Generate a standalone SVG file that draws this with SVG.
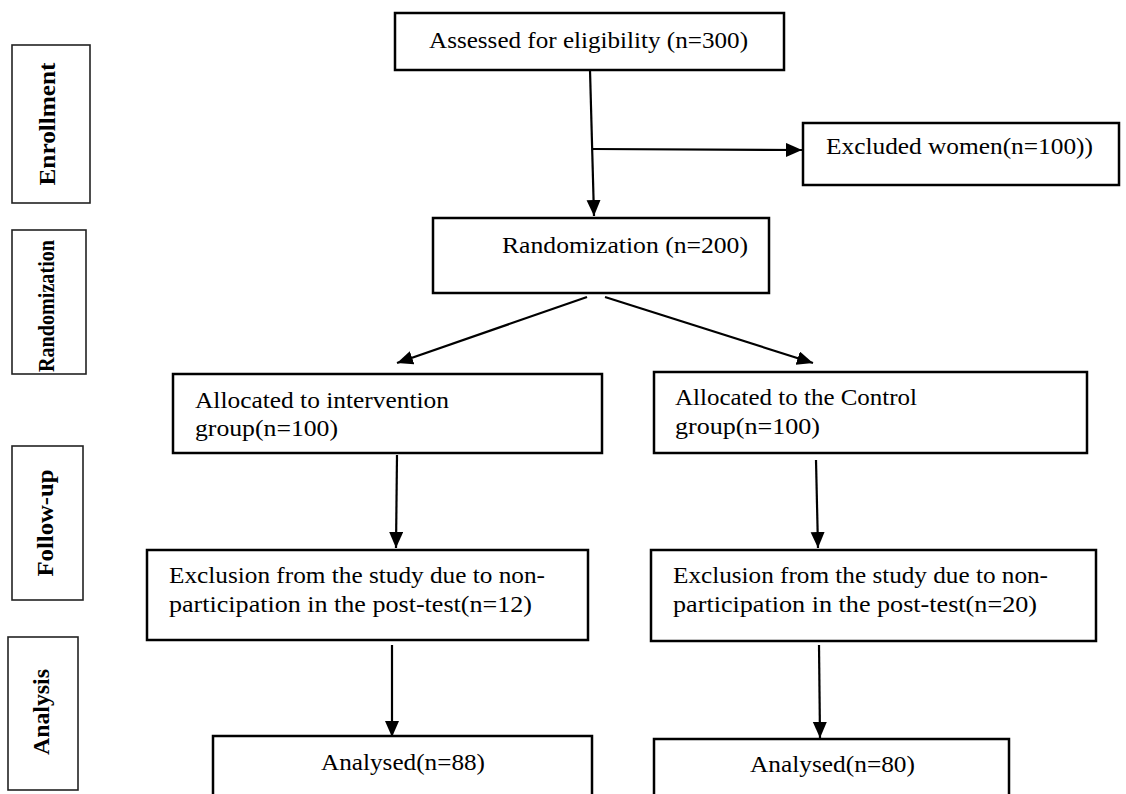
<svg xmlns="http://www.w3.org/2000/svg" width="1126" height="794" viewBox="0 0 1126 794">
<style>
.box{fill:#fff;stroke:#000;stroke-width:2.5}
.side{fill:#fff;stroke:#222;stroke-width:1.6}
.t{font-family:"Liberation Serif","DejaVu Serif",serif;font-size:23.5px;fill:#000}
.s{font-family:"Liberation Serif","DejaVu Serif",serif;font-size:23px;font-weight:bold;fill:#000;text-anchor:middle}
.c{fill:none;stroke:#000;stroke-width:2.2}
</style>
<defs>
<marker id="ah" markerUnits="userSpaceOnUse" markerWidth="17" markerHeight="15" refX="16" refY="7" orient="auto">
<path d="M0,0 L16,7 L0,14 z" fill="#000"/>
</marker>
</defs>
<rect width="1126" height="794" fill="#fff"/>
<g id="stage-enrollment"><rect class="side" x="12" y="45" width="78" height="158"/><text class="s" transform="translate(55,124) rotate(-90)" textLength="123" lengthAdjust="spacingAndGlyphs">Enrollment</text></g>
<g id="stage-randomization"><rect class="side" x="12" y="230" width="74" height="144"/><text class="s" transform="translate(54,306) rotate(-90)" textLength="132" lengthAdjust="spacingAndGlyphs">Randomization</text></g>
<g id="stage-followup"><rect class="side" x="12" y="446" width="71" height="154"/><text class="s" transform="translate(53,523) rotate(-90)" textLength="107" lengthAdjust="spacingAndGlyphs">Follow-up</text></g>
<g id="stage-analysis"><rect class="side" x="8" y="637" width="70" height="153"/><text class="s" transform="translate(49,712) rotate(-90)" textLength="86" lengthAdjust="spacingAndGlyphs">Analysis</text></g>

<g id="connectors">
<line class="c" x1="590" y1="70" x2="594" y2="216" marker-end="url(#ah)"/>
<line class="c" x1="593" y1="149" x2="802" y2="150" marker-end="url(#ah)"/>
<line class="c" x1="587" y1="297" x2="397" y2="363" marker-end="url(#ah)"/>
<line class="c" x1="605" y1="297" x2="813" y2="363" marker-end="url(#ah)"/>
<line class="c" x1="397" y1="455" x2="396" y2="548" marker-end="url(#ah)"/>
<line class="c" x1="816" y1="460" x2="818" y2="548" marker-end="url(#ah)"/>
<line class="c" x1="392" y1="645" x2="392" y2="737" marker-end="url(#ah)"/>
<line class="c" x1="819" y1="645" x2="820" y2="738" marker-end="url(#ah)"/>
</g>

<g id="assessed"><rect class="box" x="395" y="13" width="389" height="57"/><text class="t" x="429" y="48" textLength="319" lengthAdjust="spacingAndGlyphs">Assessed for eligibility (n=300)</text></g>
<g id="excluded"><rect class="box" x="803" y="123" width="316" height="62"/><text class="t" x="826" y="154" textLength="267" lengthAdjust="spacingAndGlyphs">Excluded women(n=100))</text></g>
<g id="randomization"><rect class="box" x="433" y="218" width="336" height="75"/><text class="t" x="502" y="253" textLength="246" lengthAdjust="spacingAndGlyphs">Randomization (n=200)</text></g>
<g id="alloc-intervention"><rect class="box" x="173" y="374" width="429" height="79"/><text class="t" x="195" y="408" textLength="254" lengthAdjust="spacingAndGlyphs">Allocated to intervention</text><text class="t" x="195" y="436" textLength="143" lengthAdjust="spacingAndGlyphs">group(n=100)</text></g>
<g id="alloc-control"><rect class="box" x="654" y="372" width="433" height="81"/><text class="t" x="675" y="405" textLength="242" lengthAdjust="spacingAndGlyphs">Allocated to the Control</text><text class="t" x="675" y="434" textLength="145" lengthAdjust="spacingAndGlyphs">group(n=100)</text></g>
<g id="excl-intervention"><rect class="box" x="147" y="550" width="441" height="90"/><text class="t" x="169" y="583" textLength="376" lengthAdjust="spacingAndGlyphs">Exclusion from the study due to non-</text><text class="t" x="169" y="612" textLength="363" lengthAdjust="spacingAndGlyphs">participation in the post-test(n=12)</text></g>
<g id="excl-control"><rect class="box" x="651" y="550" width="445" height="91"/><text class="t" x="673" y="583" textLength="375" lengthAdjust="spacingAndGlyphs">Exclusion from the study due to non-</text><text class="t" x="673" y="612" textLength="364" lengthAdjust="spacingAndGlyphs">participation in the post-test(n=20)</text></g>
<g id="analysed-intervention"><rect class="box" x="213" y="736" width="379" height="70"/><text class="t" x="321" y="770" textLength="164" lengthAdjust="spacingAndGlyphs">Analysed(n=88)</text></g>
<g id="analysed-control"><rect class="box" x="654" y="739" width="355" height="67"/><text class="t" x="750" y="772" textLength="165" lengthAdjust="spacingAndGlyphs">Analysed(n=80)</text></g>
</svg>
